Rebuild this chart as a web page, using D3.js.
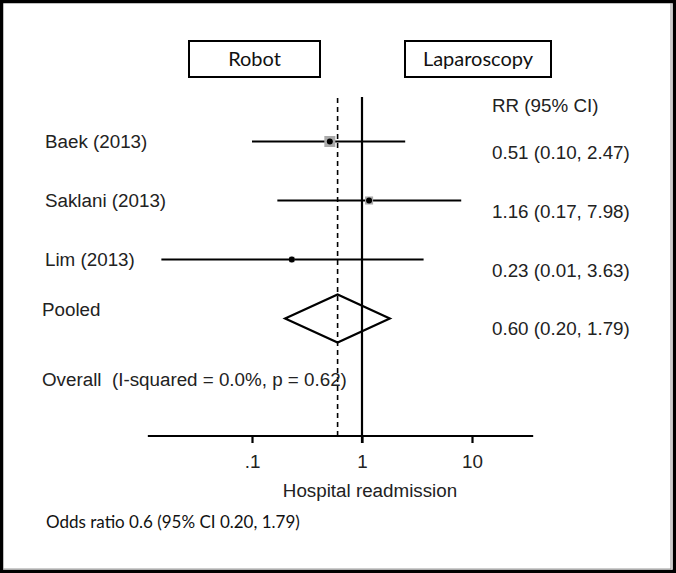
<!DOCTYPE html>
<html lang="en">
<head>
    <meta charset="UTF-8">
    <title>Hospital readmission forest plot</title>
    <style>
        body { margin: 0; background: #fff; }
        svg { display: block; }
        .lbl { font-family: "Liberation Sans", Arial, sans-serif; font-size: 18.8px; fill: #222; }
        .cal { font-family: Lato, "Open Sans", sans-serif; fill: #111; }
    </style>
    <script src="https://d3js.org/d3.v7.min.js"></script>
</head>
<body>
<svg width="676" height="573"></svg>
<script>
    // study data
    const studies = ["Baek (2013)", "Saklani (2013)", "Lim (2013)"];
    const rr = [0.51, 1.16, 0.23];
    const ciLow = [0.10, 0.17, 0.01];
    const ciHigh = [2.47, 7.98, 3.63];
    const weights = [56, 30, 14];
    const pooled = { est: 0.60, low: 0.20, high: 1.79 };
    const tickValues = [0.1, 1, 10];
    const tickLabels = [".1", "1", "10"];
    const axisExtent = [0.0113, 36];
    const clipLow = 0.015;

    const fmt = d3.format(".2f");
    const svg = d3.select("svg");

    // frame
    svg.append("rect").attr("x", 1.5).attr("y", 1.5).attr("width", 673).attr("height", 570)
        .attr("fill", "none").attr("stroke", "#000").attr("stroke-width", 3.5);
    svg.append("line").attr("x1", 671).attr("x2", 671).attr("y1", 3).attr("y2", 569)
        .attr("stroke", "#999").attr("stroke-width", 1);
    svg.append("line").attr("x1", 3).attr("x2", 671).attr("y1", 569).attr("y2", 569)
        .attr("stroke", "#999").attr("stroke-width", 1);

    const x = d3.scaleLog().domain([0.1, 10]).range([252, 472]);
    const y = d3.scaleBand().domain(d3.range(studies.length + 1)).range([112, 348]);
    const yc = i => y(i) + y.bandwidth() / 2;
    const axisY = 436;

    // header boxes
    const boxes = [{ t: "Robot", x0: 189, x1: 320 }, { t: "Laparoscopy", x0: 405, x1: 551 }];
    boxes.forEach(b => {
        svg.append("rect").attr("x", b.x0).attr("y", 41).attr("width", b.x1 - b.x0).attr("height", 36)
            .attr("fill", "#fff").attr("stroke", "#000").attr("stroke-width", 2);
        svg.append("text").attr("class", "cal").attr("x", (b.x0 + b.x1) / 2).attr("y", 66)
            .attr("text-anchor", "middle").attr("font-size", "20px").text(b.t);
    });

    // reference lines
    svg.append("line").attr("x1", x(1)).attr("x2", x(1)).attr("y1", 97).attr("y2", axisY + 7)
        .attr("stroke", "#000").attr("stroke-width", 2.2);
    svg.append("line").attr("x1", x(pooled.est)).attr("x2", x(pooled.est)).attr("y1", 98).attr("y2", axisY)
        .attr("stroke", "#000").attr("stroke-width", 1.6).attr("stroke-dasharray", "5,4");

    // axis
    const axis = d3.axisBottom(x).tickValues(tickValues).tickFormat((d, i) => tickLabels[i]).tickSize(7).tickPadding(12);
    const gAxis = svg.append("g").attr("transform", `translate(0,${axisY})`).call(axis);
    gAxis.select(".domain").remove();
    gAxis.append("line").attr("x1", x(axisExtent[0])).attr("x2", x(axisExtent[1]))
        .attr("stroke", "#000").attr("stroke-width", 2.2);
    gAxis.selectAll(".tick line").attr("stroke", "#000").attr("stroke-width", 2.2);
    gAxis.selectAll(".tick text").attr("class", "lbl").attr("font-size", null).attr("font-family", null);

    svg.append("text").attr("class", "lbl").attr("x", 370).attr("y", 497).attr("text-anchor", "middle")
        .text("Hospital readmission");

    // study rows
    const size = d3.scaleSqrt().domain([0, d3.max(weights)]).range([0, 11]);
    studies.forEach((s, i) => {
        const cy = yc(i);
        svg.append("text").attr("class", "lbl").attr("x", 45).attr("y", cy + 6).text(s);
        svg.append("line").attr("x1", x(Math.max(ciLow[i], clipLow))).attr("x2", x(ciHigh[i]))
            .attr("y1", cy).attr("y2", cy).attr("stroke", "#000").attr("stroke-width", 2.2);
        const w = size(weights[i]);
        svg.append("rect").attr("x", x(rr[i]) - w / 2).attr("y", cy - w / 2).attr("width", w).attr("height", w)
            .attr("fill", "#aaa");
        svg.append("circle").attr("cx", x(rr[i])).attr("cy", cy).attr("r", 3).attr("fill", "#000");
        svg.append("text").attr("class", "lbl").attr("x", 492).attr("y", cy + 17)
            .text(`${fmt(rr[i])} (${fmt(ciLow[i])}, ${fmt(ciHigh[i])})`);
    });

    // pooled diamond
    const pc = yc(studies.length);
    svg.append("path")
        .attr("d", `M${x(pooled.low)},${pc} L${x(pooled.est)},${pc - 24} L${x(pooled.high)},${pc} L${x(pooled.est)},${pc + 24} Z`)
        .attr("fill", "none").attr("stroke", "#000").attr("stroke-width", 2.2);
    svg.append("text").attr("class", "lbl").attr("x", 42).attr("y", pc - 3).text("Pooled");
    svg.append("text").attr("class", "lbl").attr("x", 492).attr("y", pc + 16)
        .text(`${fmt(pooled.est)} (${fmt(pooled.low)}, ${fmt(pooled.high)})`);

    svg.append("text").attr("class", "lbl").attr("x", 492).attr("y", 112).text("RR (95% CI)");
    svg.append("text").attr("class", "lbl").attr("x", 42).attr("y", 386).attr("xml:space", "preserve")
        .text("Overall  (I-squared = 0.0%, p = 0.62)");

    svg.append("text").attr("class", "cal").attr("x", 46).attr("y", 528).attr("font-size", "17px")
        .text(`Odds ratio ${pooled.est.toFixed(1)} (95% CI ${fmt(pooled.low)}, ${fmt(pooled.high)})`);
</script>
</body>
</html>
